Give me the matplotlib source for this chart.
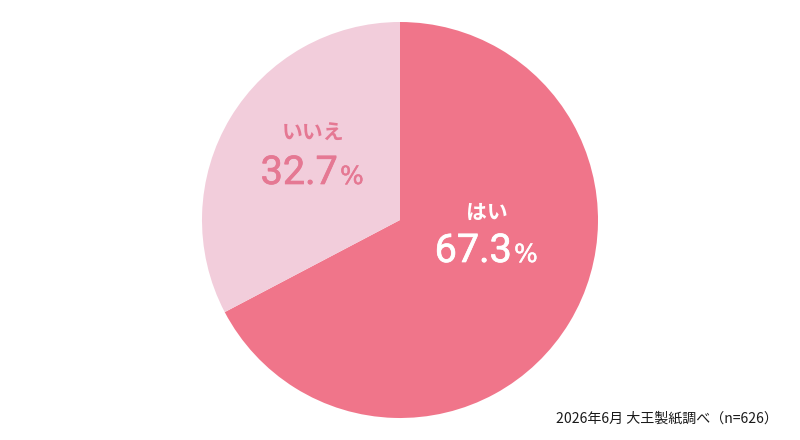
import matplotlib
matplotlib.use("Agg")
import matplotlib.pyplot as plt
import matplotlib.patheffects as pe

# Survey result (Yes / No)
labels = ["はい", "いいえ"]
shares = [67.3, 32.7]
colors = ["#F0758A", "#F2CDDB"]
text_colors = ["#FFFFFF", "#E57893"]
source_note = "2026年6月 大王製紙調べ（n=626）"

jp_font = ["Noto Sans CJK JP", "DejaVu Sans"]
num_font = ["Roboto", "DejaVu Sans"]

fig = plt.figure(figsize=(8, 4.4), dpi=100)
ax = fig.add_axes([0, 0, 1, 1])

ax.pie(shares, colors=colors, startangle=90, counterclock=False,
       center=(400, 220), radius=198, wedgeprops=dict(linewidth=0))

# pie resets the limits, so set them afterwards
ax.set_xlim(0, 800)
ax.set_ylim(0, 440)
ax.set_aspect("equal")
ax.axis("off")

# label anchors: (x of number/percent split, baseline of number, label centre y)
anchors = [(512, 178, 228), (338, 256, 307)]
for lab, val, tc, (xs, yb, yl) in zip(labels, shares, text_colors, anchors):
    ax.text(xs - 25, yl, lab, ha="center", va="center", color=tc,
            fontsize=15, fontweight="bold", family=jp_font)
    ax.text(xs, yb, f"{val:.1f}", ha="right", va="baseline", color=tc,
            fontsize=28.5, family=num_font,
            path_effects=[pe.withStroke(linewidth=0.5, foreground=tc)])
    ax.text(xs + 2, yb, "%", ha="left", va="baseline", color=tc,
            fontsize=18, family=["DejaVu Sans"],
            path_effects=[pe.withStroke(linewidth=0.3, foreground=tc)])

fig.text(778 / 800, 1 - 418 / 440, source_note, ha="right", va="center",
         fontsize=10.1, color="#1a1a1a", family=jp_font)

fig.savefig("out.png", dpi=100, facecolor="white")
